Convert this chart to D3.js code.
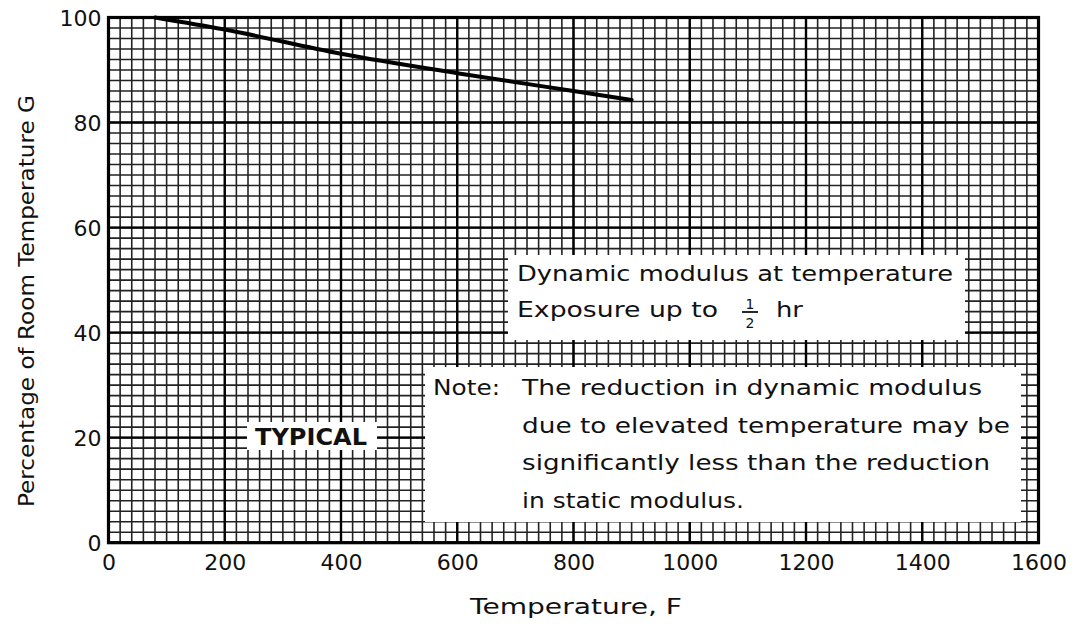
<!DOCTYPE html>
<html><head><meta charset="utf-8">
<script src="https://cdn.jsdelivr.net/npm/d3@7"></script>
<style>
html,body{margin:0;padding:0;background:#fff;}
svg{display:block;}
text{font-family:"DejaVu Sans","Open Sans",sans-serif;fill:#111;}
</style></head>
<body>
<svg id="c" width="1078" height="627"></svg>
<script>
// ---- data ----
const temps = [80, 200, 400, 600, 800, 900];
const pct   = [100, 97.7, 93.1, 89.4, 86.0, 84.3];
const xTicks = [0,200,400,600,800,1000,1200,1400,1600];
const yTicks = [0,20,40,60,80,100];
const xMinor = d3.range(0, 1601, 20);
const yMinor = d3.range(0, 101, 2);

const svg = d3.select("#c");
const L = 108.5, R = 1038.5, T = 17.5, B = 542.7;
const x = d3.scaleLinear().domain([0,1600]).range([L,R]);
const y = d3.scaleLinear().domain([0,100]).range([B,T]);

const g = svg.append("g");
g.selectAll(".vx").data(xMinor).join("line")
  .attr("x1",d=>x(d)).attr("x2",d=>x(d)).attr("y1",T).attr("y2",B)
  .attr("stroke","#222").attr("stroke-width",1.6);
g.selectAll(".hy").data(yMinor).join("line")
  .attr("y1",d=>y(d)).attr("y2",d=>y(d)).attr("x1",L).attr("x2",R)
  .attr("stroke","#222").attr("stroke-width",1.6);
g.selectAll(".mx").data(xTicks).join("line")
  .attr("x1",d=>x(d)).attr("x2",d=>x(d)).attr("y1",T).attr("y2",B)
  .attr("stroke","#000").attr("stroke-width",2.4);
g.selectAll(".my").data(yTicks).join("line")
  .attr("y1",d=>y(d)).attr("y2",d=>y(d)).attr("x1",L).attr("x2",R)
  .attr("stroke","#000").attr("stroke-width",2.4);
svg.append("rect").attr("x",L).attr("y",T).attr("width",R-L).attr("height",B-T)
  .attr("fill","none").attr("stroke","#000").attr("stroke-width",3.2);

// curve
svg.append("path").datum(temps.map((t,i)=>[t,pct[i]]))
  .attr("d", d3.line().x(d=>x(d[0])).y(d=>y(d[1])).curve(d3.curveMonotoneX))
  .attr("fill","none").attr("stroke","#000").attr("stroke-width",4).attr("stroke-linecap","round");

// axes (labels)
const xa = svg.append("g").attr("transform",`translate(0,${B})`)
  .call(d3.axisBottom(x).tickValues(xTicks).tickSize(0).tickPadding(12).tickFormat(d3.format("d")));
const ya = svg.append("g").attr("transform",`translate(${L},0)`)
  .call(d3.axisLeft(y).tickValues(yTicks).tickSize(0).tickPadding(7).tickFormat(d3.format("d")));
[xa,ya].forEach(a=>{
  a.select(".domain").remove();
  a.selectAll("text").attr("font-size",22).attr("fill","#111")
   .style("font-family",'"DejaVu Sans","Open Sans",sans-serif');
});
ya.selectAll("text").attr("dy","0.36em");

const SG = "spacingAndGlyphs";
// axis titles
svg.append("text").attr("x",576).attr("y",614).attr("text-anchor","middle")
  .attr("font-size",21).attr("textLength",212).attr("lengthAdjust",SG).text("Temperature,  F");
svg.append("text").attr("transform","translate(34,301) rotate(-90)").attr("text-anchor","middle")
  .attr("font-size",21).attr("textLength",412).attr("lengthAdjust",SG).text("Percentage of Room Temperature G");

// box 1
svg.append("rect").attr("x",508).attr("y",255).attr("width",457).attr("height",85).attr("fill","#fff");
svg.append("text").attr("x",517).attr("y",281).attr("font-size",22).attr("textLength",436).attr("lengthAdjust",SG)
  .text("Dynamic modulus at temperature");
svg.append("text").attr("x",517).attr("y",317).attr("font-size",22).attr("textLength",201).attr("lengthAdjust",SG)
  .text("Exposure up to");
svg.append("text").attr("x",750).attr("y",309).attr("font-size",14).attr("text-anchor","middle").text("1");
svg.append("line").attr("x1",742).attr("x2",758).attr("y1",312).attr("y2",312).attr("stroke","#111").attr("stroke-width",1.8);
svg.append("text").attr("x",750).attr("y",328).attr("font-size",14).attr("text-anchor","middle").text("2");
svg.append("text").attr("x",776).attr("y",317).attr("font-size",22).attr("textLength",27).attr("lengthAdjust",SG).text("hr");

// box 2 (note)
svg.append("rect").attr("x",425).attr("y",367).attr("width",596).attr("height",155).attr("fill","#fff");
svg.append("text").attr("x",433).attr("y",395).attr("font-size",22).attr("textLength",67).attr("lengthAdjust",SG).text("Note:");
const noteLines = [
  ["The reduction in dynamic modulus", 460],
  ["due to elevated temperature may be", 488],
  ["significantly less than the reduction", 468],
  ["in static modulus.", 222]
];
noteLines.forEach((d,i)=>{
  svg.append("text").attr("x",522).attr("y",395+i*37.7).attr("font-size",22)
    .attr("textLength",d[1]).attr("lengthAdjust",SG).text(d[0]);
});

// TYPICAL
svg.append("rect").attr("x",247).attr("y",422).attr("width",130).attr("height",28).attr("fill","#fff");
svg.append("text").attr("x",255).attr("y",445).attr("font-size",23).attr("font-weight","bold")
  .attr("textLength",112).attr("lengthAdjust",SG).text("TYPICAL");
</script>
</body></html>
